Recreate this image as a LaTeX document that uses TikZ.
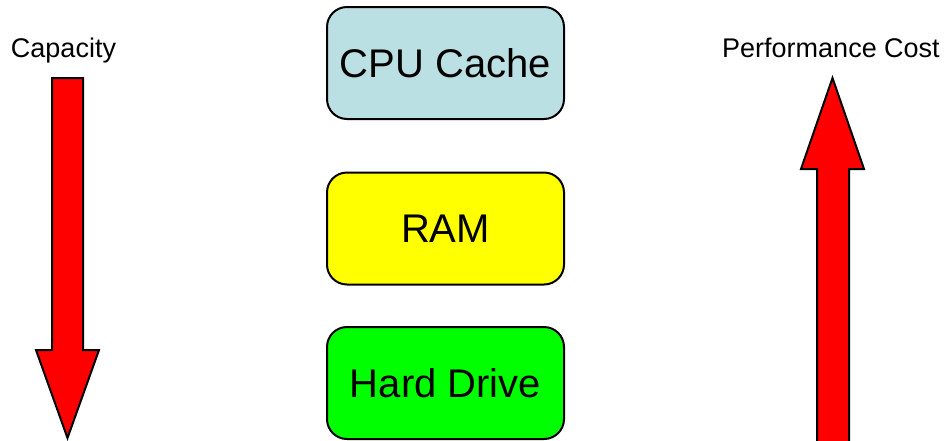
\documentclass[tikz,border=0pt]{standalone}
\usepackage{fontspec}
\setmainfont{Liberation Sans}
\usepackage{xcolor}
\usetikzlibrary{positioning}

\definecolor{cachecol}{RGB}{187,224,227}
\definecolor{ramcol}{RGB}{255,255,0}
\definecolor{diskcol}{RGB}{0,255,0}
\definecolor{arrowcol}{RGB}{255,0,0}

\begin{document}
\begin{tikzpicture}[
    x=1pt, y=-1pt,
    box/.style={rectangle, draw, line width=2pt, rounded corners=20pt, minimum width=237pt, minimum height=112pt, inner sep=0pt, font=\fontsize{40}{48}\selectfont},
    heading/.style={anchor=base, inner sep=0pt, font=\fontsize{27}{32}\selectfont},
    bigarrow/.style={draw, fill=arrowcol, line width=2pt, line join=miter}
]
    \useasboundingbox (0,0) rectangle (948,440);

    % Memory levels
    \node[box, fill=cachecol] (cache) at (445.5,63) {CPU Cache};
    \node[box, fill=ramcol, below=51.5pt of cache] (ram) {RAM};
    \node[box, fill=diskcol, below=40.5pt of ram] (disk) {Hard Drive};

    % Headings
    \node[heading] (capacity) at (63.5,57) {Capacity};
    \node[heading] (cost) at (831,57) {Performance Cost};

    % Capacity grows downwards
    \draw[bigarrow] (52,78) -- (83,78) -- (83,350) -- (99,350) -- (67.5,438)
        -- (36,350) -- (52,350) -- cycle;

    % Cost grows upwards
    \draw[bigarrow] (832.5,78) -- (864,169) -- (849,169) -- (849,445)
        -- (817,445) -- (817,169) -- (801,169) -- cycle;

\end{tikzpicture}
\end{document}
